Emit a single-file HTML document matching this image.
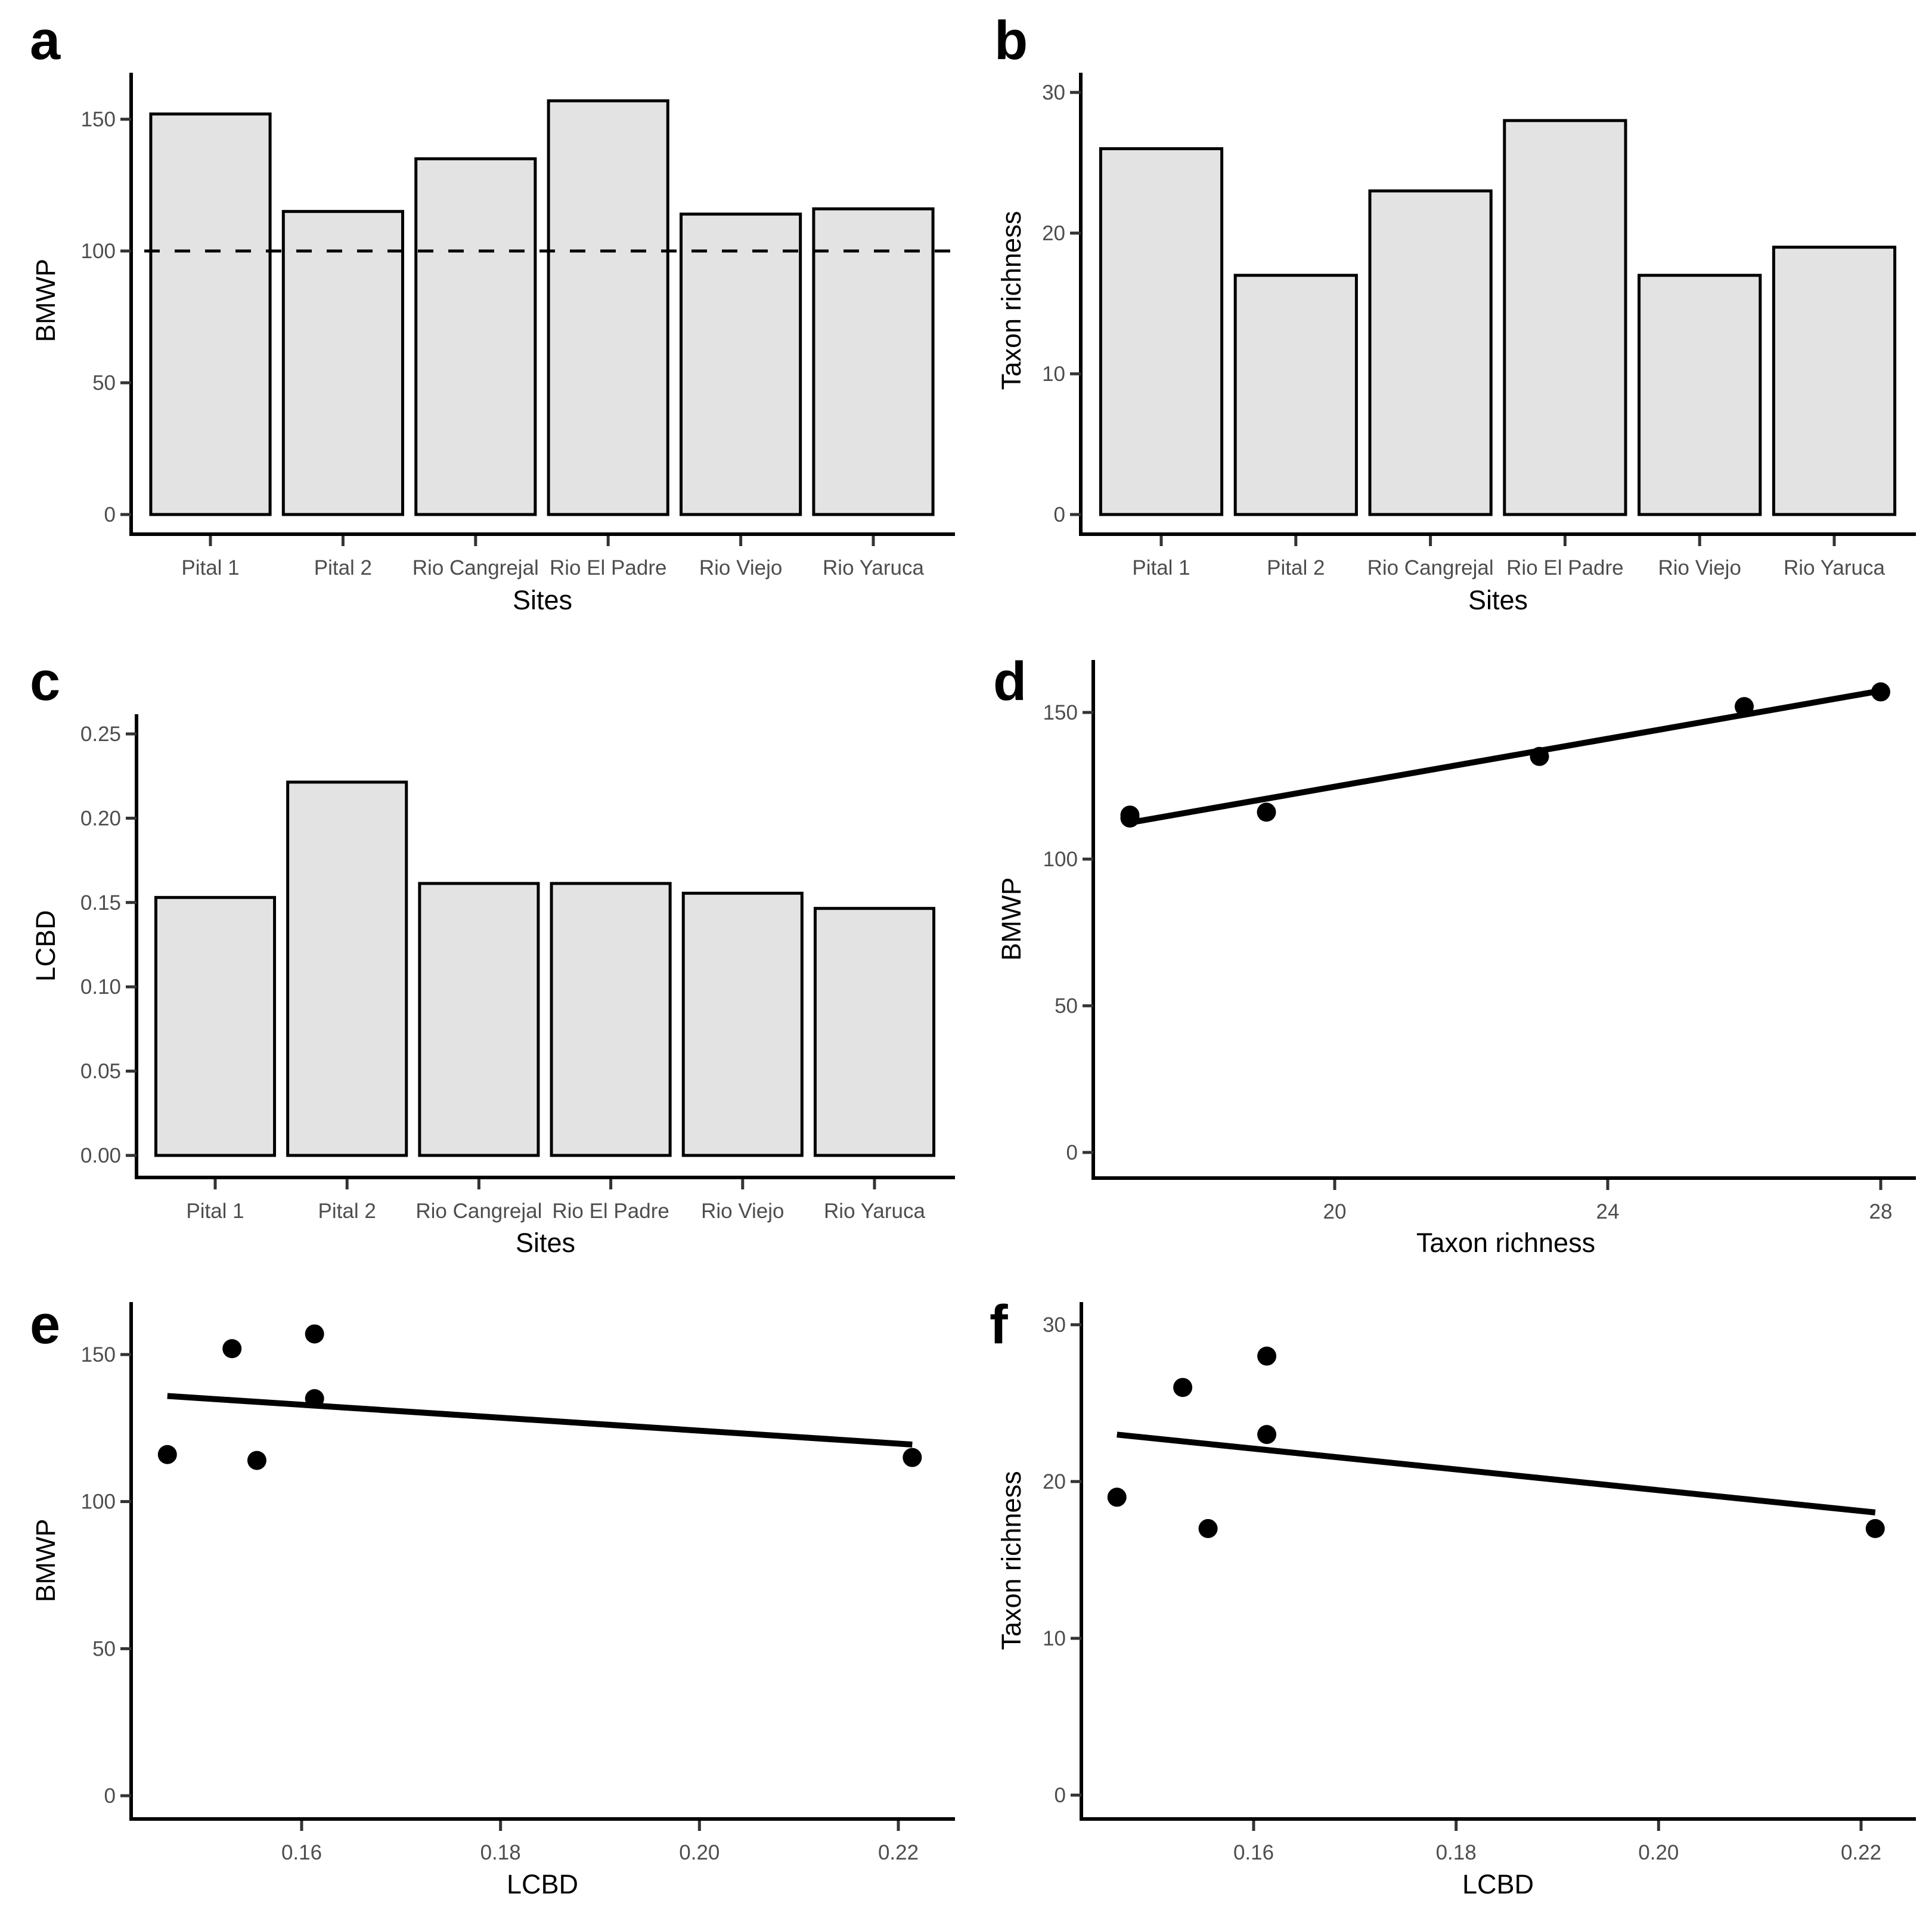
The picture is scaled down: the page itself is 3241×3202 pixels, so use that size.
<!DOCTYPE html>
<html><head><meta charset="utf-8">
<style>
html,body{margin:0;padding:0;background:#fff;}
svg{display:block;font-family:"Liberation Sans",Arial,sans-serif;}
</style></head>
<body>
<svg id="fig" width="3241" height="3202" viewBox="0 0 3241 3202" xmlns="http://www.w3.org/2000/svg"></svg>
<script>
// ---- data ----
const sites = ["Pital 1","Pital 2","Rio Cangrejal","Rio El Padre","Rio Viejo","Rio Yaruca"];
const bmwp = [152,115,135,157,114,116];
const richness = [26,17,23,28,17,19];
const lcbd = [0.153,0.2214,0.1613,0.1613,0.1555,0.1465];
const bmwpTicks = [0,50,100,150];
const richTicks = [0,10,20,30];
const lcbdTicks = [0,0.05,0.10,0.15,0.20,0.25];
const lcbdTicksX = [0.16,0.18,0.20,0.22];
const richTicksX = [20,24,28];
const bmwpThreshold = [100];

const NS="http://www.w3.org/2000/svg";
const svg=document.getElementById('fig');
function el(tag,attrs,parent){const e=document.createElementNS(NS,tag);for(const k in attrs)e.setAttribute(k,attrs[k]);(parent||svg).appendChild(e);return e;}
function txt(s,attrs,parent){const e=el('text',attrs,parent);e.textContent=s;return e;}
function lin(v0,v1,p0,p1){return v=>p0+(v-v0)*(p1-p0)/(v1-v0);}

function axes(g,P,ys,yTicks,yFmt,ytitle,xtitle,letter){
  // panel letter
  const L=txt(letter,{x:P.lx,y:P.ly,'font-size':92,'font-weight':'bold',fill:'#000'},g);
  
  
  // y axis line
  const ya=el('line',{x1:P.ax,y1:P.top,x2:P.ax,y2:P.ay+3,stroke:'#000','stroke-width':6},g);
  
  
  const xa=el('line',{x1:P.ax-3,y1:P.ay,x2:P.right,y2:P.ay,stroke:'#000','stroke-width':6},g);
  
  
  yTicks.forEach(t=>{
    const y=ys(t);
    const tk=el('line',{x1:P.ax-18,y1:y,x2:P.ax,y2:y,stroke:'#333','stroke-width':5},g);
    
    
    const tl=txt(yFmt(t),{x:P.ax-26,y:y+12,'font-size':35,fill:'#4d4d4d','text-anchor':'end'},g);
    
    
  });
  const yt=txt(ytitle,{x:0,y:0,'font-size':45,fill:'#000','text-anchor':'middle',transform:`translate(${P.ytx},${(P.top+P.ay)/2+P.ytdy}) rotate(-90)`},g);
  
  
  const xt=txt(xtitle,{x:P.xtx,y:P.xty,'font-size':45,fill:'#000','text-anchor':'middle'},g);
  
  
}

function barPanel(P,values,yTicks,yFmt,ytitle,letter,threshold){
  const g=el('g',{});
  
  
  const ys=lin(P.y0v,P.y1v,P.y0p,P.y1p);
  const step=P.step, bw=step*0.9;
  sites.forEach((s,i)=>{
    const cx=P.c0+i*step;
    const r=el('rect',{x:cx-bw/2,y:ys(values[i]),width:bw,height:ys(0)-ys(values[i]),fill:'#e3e3e3',stroke:'#000','stroke-width':5},g);
    
    
    const tk=el('line',{x1:cx,y1:P.ay,x2:cx,y2:P.ay+20,stroke:'#333','stroke-width':5},g);
    
    
    const tl=txt(s,{x:cx,y:P.ay+68,'font-size':35,fill:'#4d4d4d','text-anchor':'middle'},g);
    
    
  });
  if(threshold){threshold.forEach(t=>{
    const d=el('line',{x1:P.ax+22,y1:ys(t),x2:P.right,y2:ys(t),stroke:'#000','stroke-width':5,'stroke-dasharray':'26 25'},g);
    
    
  });}
  axes(g,P,ys,yTicks,yFmt,ytitle,'Sites',letter);
}

function scatterPanel(P,xv,yv,xTicks,xFmt,yTicks,yFmt,xtitle,ytitle,letter){
  const g=el('g',{});
  
  
  const xs=lin(P.x0v,P.x1v,P.x0p,P.x1p);
  const ys=lin(P.y0v,P.y1v,P.y0p,P.y1p);
  const n=xv.length;
  const mx=xv.reduce((a,b)=>a+b,0)/n, my=yv.reduce((a,b)=>a+b,0)/n;
  let sxy=0,sxx=0; for(let i=0;i<n;i++){sxy+=(xv[i]-mx)*(yv[i]-my);sxx+=(xv[i]-mx)**2;}
  const b=sxy/sxx, a=my-b*mx;
  const xmin=Math.min(...xv), xmax=Math.max(...xv);
  xv.forEach((x,i)=>{
    const c=el('circle',{cx:xs(x),cy:ys(yv[i]),r:16,fill:'#000'},g);
    
    
  });
  const rl=el('line',{x1:xs(xmin),y1:ys(a+b*xmin),x2:xs(xmax),y2:ys(a+b*xmax),stroke:'#000','stroke-width':10},g);
  
  
  xTicks.forEach(t=>{
    const x=xs(t);
    const tk=el('line',{x1:x,y1:P.ay,x2:x,y2:P.ay+20,stroke:'#333','stroke-width':5},g);
    
    
    const tl=txt(xFmt(t),{x:x,y:P.ay+68,'font-size':35,fill:'#4d4d4d','text-anchor':'middle'},g);
    
    
  });
  axes(g,P,ys,yTicks,yFmt,ytitle,xtitle,letter);
}

const f0=v=>String(v), f2=v=>v.toFixed(2);

// panel a
barPanel({ax:220,ay:896,top:122,right:1602,y0v:0,y1v:150,y0p:863,y1p:200,c0:353,step:222.4,
  lx:50,ly:99,ytx:92,ytdy:-5,xtx:910,xty:1022},bmwp,bmwpTicks,f0,'BMWP','a',bmwpThreshold);
// panel b
barPanel({ax:1813,ay:896,top:122,right:3214,y0v:0,y1v:30,y0p:863,y1p:155,c0:1948,step:225.8,
  lx:1668,ly:99,ytx:1712,ytdy:-5,xtx:2513,xty:1022},richness,richTicks,f0,'Taxon richness','b',null);
// panel c
barPanel({ax:229,ay:1975,top:1198,right:1602,y0v:0,y1v:0.25,y0p:1938,y1p:1231,c0:361,step:221.2,
  lx:50,ly:1174,ytx:92,ytdy:0,xtx:915,xty:2100},lcbd,lcbdTicks,f2,'LCBD','c',null);
// panel d
scatterPanel({ax:1834,ay:1976,top:1107,right:3214,x0v:20,x1v:28,x0p:2239,x1p:3155,y0v:0,y1v:150,y0p:1933,y1p:1195,
  lx:1666,ly:1174,ytx:1712,ytdy:0,xtx:2526,xty:2100},richness,bmwp,richTicksX,f0,bmwpTicks,f0,'Taxon richness','BMWP','d');
// panel e
scatterPanel({ax:220,ay:3051,top:2184,right:1602,x0v:0.16,x1v:0.22,x0p:506,x1p:1507,y0v:0,y1v:150,y0p:3012,y1p:2272,
  lx:50,ly:2253,ytx:92,ytdy:0,xtx:910,xty:3176},lcbd,bmwp,lcbdTicksX,f2,bmwpTicks,f0,'LCBD','BMWP','e');
// panel f
scatterPanel({ax:1814,ay:3051,top:2184,right:3214,x0v:0.16,x1v:0.22,x0p:2103,x1p:3122,y0v:0,y1v:30,y0p:3011,y1p:2222,
  lx:1660,ly:2253,ytx:1712,ytdy:0,xtx:2513,xty:3176},lcbd,richness,lcbdTicksX,f2,richTicks,f0,'LCBD','Taxon richness','f');
</script>
</body></html>
